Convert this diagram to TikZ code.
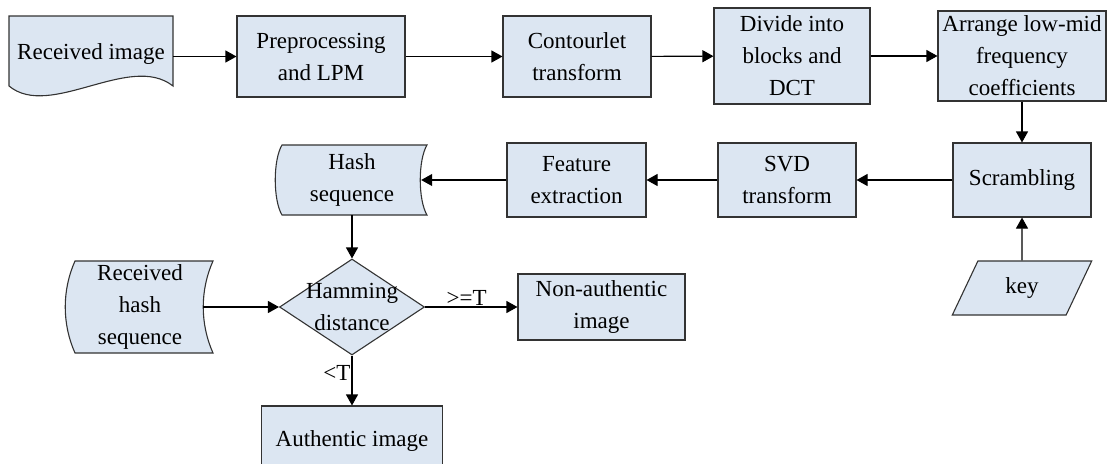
\documentclass[tikz,border=0pt]{standalone}
\usepackage{fontspec}
\setmainfont{Liberation Serif}
\usetikzlibrary{arrows.meta,shapes.geometric}
\definecolor{boxfill}{HTML}{DCE6F2}
\definecolor{boxline}{HTML}{333333}

\begin{document}
\begin{tikzpicture}[x=1pt, y=-1pt,
  every node/.style={font=\fontsize{23}{32}\selectfont, align=center, inner sep=1pt},
  block/.style={draw=boxline, fill=boxfill, line width=1.1pt},
  outline/.style={draw=boxline, fill=boxfill, line width=1.1pt},
  flow/.style={-{Triangle[length=11pt,width=12pt]}, line width=1.1pt}]
  \useasboundingbox (0,0) rectangle (1107,463);

  % document and stored-data outlines
  \draw[outline] (9,16) -- (173,16) -- (173,86)
    .. controls (130,52) and (50,120) .. (9,86) -- cycle;
  \draw[outline] (282,145) -- (427,145) .. controls (418,160) and (418,200) .. (427,215)
    -- (282,215) .. controls (273,200) and (273,160) .. (282,145) -- cycle;
  \draw[outline] (75,261) -- (213,261) .. controls (200,290) and (200,324) .. (213,353)
    -- (75,353) .. controls (62,324) and (62,290) .. (75,261) -- cycle;

  % top row
  \node[minimum width=164pt, minimum height=81pt] (recv) at (91,56.5) {\raisebox{9pt}{Received image}};
  \node[block, minimum width=168pt, minimum height=81pt] (prep) at (321,56.5) {Preprocessing\\and LPM};
  \node[block, minimum width=148pt, minimum height=81pt] (cont) at (577,56.5) {Contourlet\\transform};
  \node[block, minimum width=156pt, minimum height=96pt] (divd) at (792,56) {Divide into\\blocks and\\DCT};
  \node[block, minimum width=168pt, minimum height=90pt] (arrg) at (1022,56) {Arrange low-mid\\frequency\\coefficients};

  % middle row
  \node[block, minimum width=138pt, minimum height=74pt] (scrm) at (1022,180) {Scrambling};
  \node[block, minimum width=138pt, minimum height=74pt] (svd) at (787,180) {SVD\\transform};
  \node[block, minimum width=139pt, minimum height=74pt] (feat) at (576.5,180) {Feature\\extraction};
  \node[minimum width=138pt, minimum height=70pt] (hash) at (352,180) {Hash\\sequence};
  \node[block, trapezium, trapezium left angle=66, trapezium right angle=114,
    trapezium stretches=true, minimum width=140pt, minimum height=54pt] (key) at (1022,288) {key};

  % decision
  \node[minimum width=126pt, minimum height=92pt] (rhash) at (140,307) {Received\\hash\\sequence};
  \node[block, diamond, minimum width=145pt, minimum height=96pt] (hamm) at (352,307)
    {\makebox[0pt]{Hamming}\\\makebox[0pt]{distance}};
  \node[block, minimum width=167pt, minimum height=66pt] (nonauth) at (601.5,307) {Non-authentic\\image};
  \node[block, minimum width=181pt, minimum height=70pt] (auth) at (352,441) {Authentic image};

  \draw[flow] (recv) -- (prep);
  \draw[flow] (prep) -- (cont);
  \draw[flow] (cont) -- (divd);
  \draw[flow] (divd) -- (arrg);
  \draw[flow] (arrg) -- (scrm);
  \draw[flow] (key) -- (scrm);
  \draw[flow] (scrm) -- (svd);
  \draw[flow] (svd) -- (feat);
  \draw[flow] (feat) -- (hash);
  \draw[flow] (hash) -- (hamm);
  \draw[flow] (rhash) -- (hamm);
  \draw[flow] (hamm) -- node[above, pos=0.45] {>=T} (nonauth);
  \draw[flow] (hamm) -- node[left, pos=0.35] {<T} (auth);
\end{tikzpicture}
\end{document}
